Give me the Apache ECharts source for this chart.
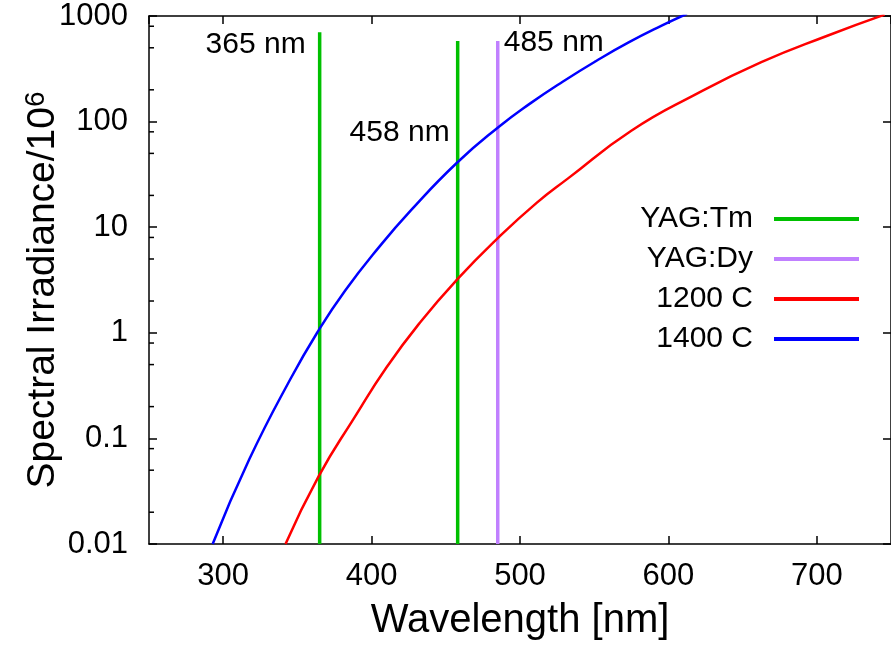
<!DOCTYPE html>
<html>
<head>
<meta charset="utf-8">
<title>Spectral irradiance</title>
<script src="https://cdn.jsdelivr.net/npm/echarts@6/dist/echarts.min.js"></script>
<style>
  html, body { margin: 0; padding: 0; background: #fff; }
  #chart { width: 891px; height: 651px; }
</style>
</head>
<body>
<div id="chart"></div>
<script>
// blackbody curves: wavelength [nm] -> spectral irradiance / 1e6
const wl1400 = [292.9, 317.5, 345.3, 364.2, 382.1, 404.3, 426.6, 457.7, 485.6, 506.7, 529.0, 551.3, 573.5, 595.8, 612.5];
const irr1400 = [0.01, 0.063, 0.365, 1.05, 2.5, 6.3, 14.5, 41, 89, 148, 240, 375, 565, 815, 1050];
const wl1200 = [342.0, 364.2, 388.7, 410.0, 433.2, 457.7, 485.6, 511.2, 532.4, 575.0, 618.0, 662.6, 707.1, 745.7];
const irr1200 = [0.01, 0.0435, 0.16, 0.47, 1.28, 3.2, 8.0, 17, 29, 82, 180, 365, 650, 1030];

// emission lines: wavelength, top of the bar
const tmLines = [365, 458];
const tmTops = [700, 580];
const dyLine = 485;
const dyTop = 580;
const lineBottom = 0.01;

// axes
const xMin = 250;
const xMax = 750;
const yMin = 0.01;
const yMax = 1000;
const yMinorTicks = [0.02, 0.05, 0.08, 0.2, 0.5, 0.8, 2, 5, 8, 20, 50, 80, 200, 500, 800];

const FONT = "'Liberation Sans', Arial, sans-serif";
const GREEN = '#00c000';
const PURPLE = '#c080ff';

const zip = (xs, ys) => xs.map((x, i) => [x, ys[i]]);

function emissionLine(name, x, top, color, label) {
  return {
    name: name,
    type: 'line',
    symbolSize: 0,
    showSymbol: true,
    color: color,
    lineStyle: { color: color, width: 3.5 },
    data: [
      [x, lineBottom],
      { value: [x, top], label: Object.assign({ show: true, color: '#000', fontSize: 30, fontFamily: FONT }, label) }
    ],
    z: 3
  };
}

const chart = echarts.init(document.getElementById('chart'));

const axisLineStyle = { color: '#000', width: 1.5 };

const option = {
  animation: false,
  backgroundColor: '#fff',
  // the right border sits just outside the picture, like the original
  grid: { left: 149, top: 16, width: 748, bottom: 107 },
  legend: {
    data: ['YAG:Tm', 'YAG:Dy', '1200 C', '1400 C'],
    orient: 'vertical',
    align: 'right',
    right: 32,
    top: 204,
    padding: 0,
    icon: 'rect',
    itemWidth: 85,
    itemHeight: 4,
    itemGap: 10,
    textStyle: { fontSize: 30, color: '#000', fontFamily: FONT, lineHeight: 30, padding: [0, 16, 0, 0] }
  },
  xAxis: [
    {
      type: 'value',
      min: xMin,
      max: xMax,
      splitNumber: 5,
      name: 'Wavelength [nm]',
      nameLocation: 'middle',
      nameGap: 57,
      nameMoveOverlap: false,
      nameTextStyle: { fontSize: 40, color: '#000', fontFamily: FONT },
      axisLine: { lineStyle: axisLineStyle },
      axisTick: { inside: true, length: 8, lineStyle: axisLineStyle },
      axisLabel: { color: '#000', fontSize: 31, fontFamily: FONT, margin: 17, showMinLabel: false, showMaxLabel: false },
      splitLine: { show: false }
    },
    {
      type: 'value',
      position: 'top',
      min: xMin,
      max: xMax,
      splitNumber: 5,
      axisLine: { lineStyle: axisLineStyle },
      axisTick: { inside: true, length: 8, lineStyle: axisLineStyle },
      axisLabel: { show: false },
      splitLine: { show: false }
    }
  ],
  yAxis: [
    {
      type: 'log',
      logBase: 10,
      min: yMin,
      max: yMax,
      name: '{base|Spectral Irradiance/10}{sup|6}',
      nameLocation: 'middle',
      nameRotate: 90,
      nameGap: 88,
      nameMoveOverlap: false,
      nameTextStyle: {
        color: '#000',
        rich: {
          base: { fontSize: 39, color: '#000', fontFamily: FONT, lineHeight: 39, padding: [4, 0, 0, 0] },
          sup: { fontSize: 28, color: '#000', fontFamily: FONT, lineHeight: 28, verticalAlign: 'top', padding: [0, 20, 0, 0] }
        }
      },
      axisLine: { lineStyle: axisLineStyle },
      axisTick: { inside: true, length: 8, lineStyle: axisLineStyle },
      axisLabel: {
        color: '#000', fontSize: 31, fontFamily: FONT, margin: 21,
        formatter: v => String(+Number(v).toPrecision(3))
      },
      splitLine: { show: false }
    },
    {
      type: 'log',
      logBase: 10,
      min: yMin,
      max: yMax,
      position: 'right',
      axisLine: { lineStyle: axisLineStyle },
      axisTick: { inside: true, length: 8, lineStyle: axisLineStyle },
      axisLabel: { show: false },
      splitLine: { show: false }
    }
  ],
  series: [
    emissionLine('YAG:Tm', tmLines[0], tmTops[0], GREEN, { position: 'left', distance: 14, offset: [0, 12], formatter: '365 nm' }),
    emissionLine('YAG:Tm', tmLines[1], tmTops[1], GREEN, { position: 'left', distance: 8, offset: [0, 92], formatter: '458 nm' }),
    emissionLine('YAG:Dy', dyLine, dyTop, PURPLE, { position: 'right', distance: 6, offset: [0, 2], formatter: '485 nm' }),
    {
      name: '1200 C',
      type: 'line',
      showSymbol: false,
      smooth: 0.5,
      color: '#ff0000',
      lineStyle: { color: '#ff0000', width: 2.5 },
      data: zip(wl1200, irr1200),
      z: 4
    },
    {
      name: '1400 C',
      type: 'line',
      showSymbol: false,
      smooth: 0.5,
      color: '#0000ff',
      lineStyle: { color: '#0000ff', width: 2.5 },
      data: zip(wl1400, irr1400),
      z: 4
    },
    {
      // minor ticks of the log axis (2, 5, 8 per decade)
      type: 'custom',
      silent: true,
      clip: false,
      data: yMinorTicks.map(v => [xMin, v]),
      renderItem: (params, api) => {
        const p = api.coord([api.value(0), api.value(1)]);
        return {
          type: 'line',
          shape: { x1: p[0], y1: p[1], x2: p[0] + 5, y2: p[1] },
          style: { stroke: '#000', lineWidth: 1.5 }
        };
      },
      z: 5
    }
  ]
};

chart.setOption(option);
</script>
</body>
</html>
